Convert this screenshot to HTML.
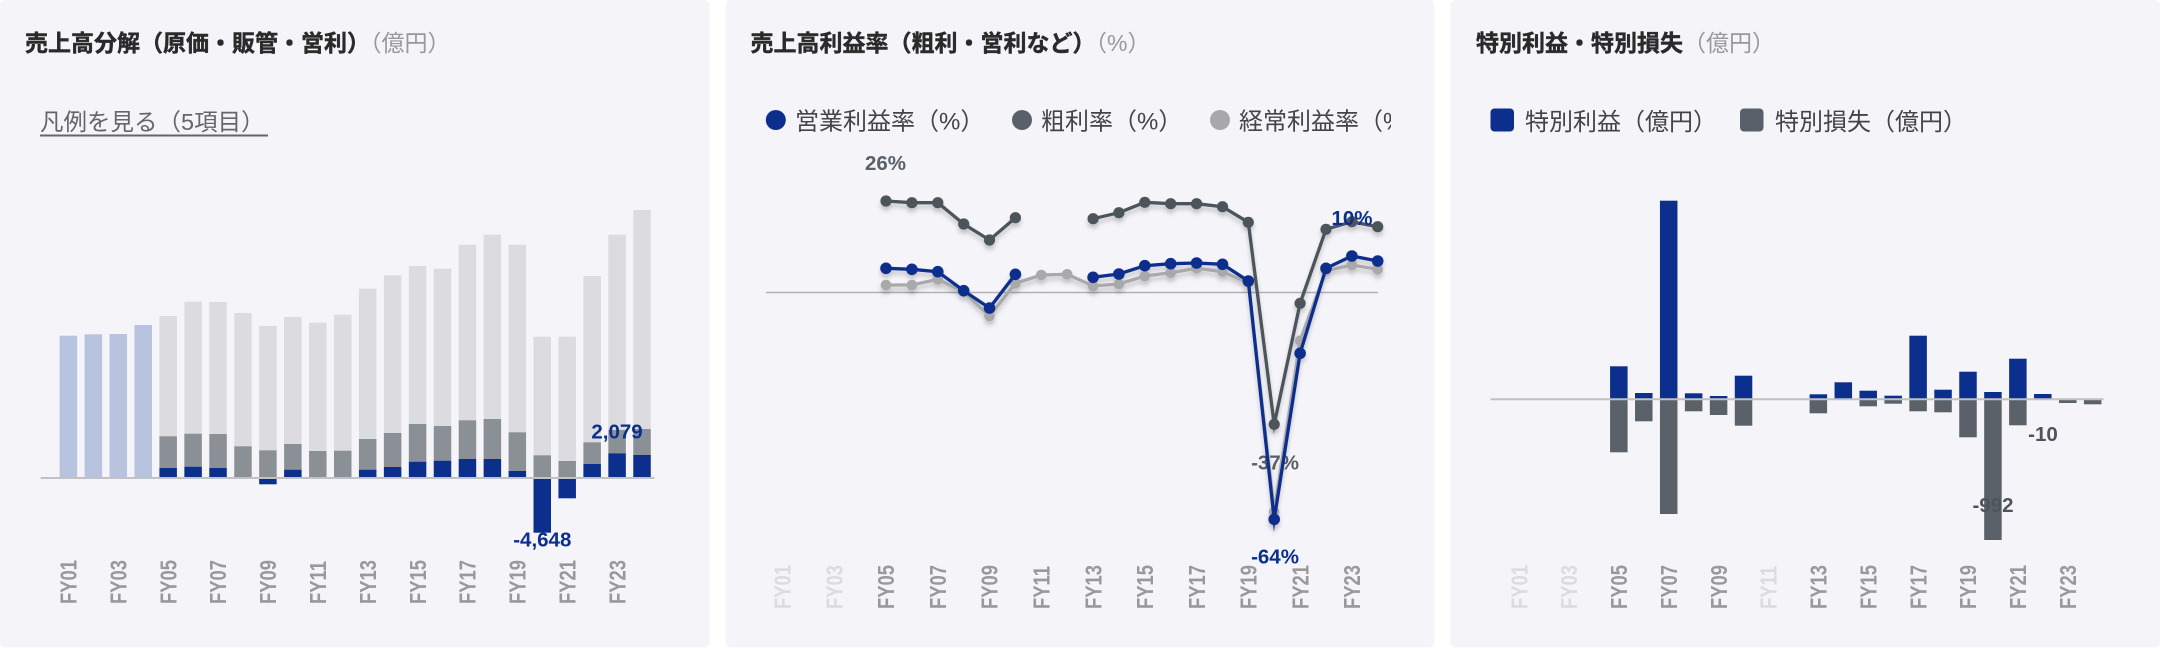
<!DOCTYPE html>
<html><head><meta charset="utf-8"><style>
html,body{margin:0;padding:0;background:#fff;}
svg{display:block;}
text{font-family:"Liberation Sans","Noto Sans CJK JP",sans-serif;}
.t{font-size:23px;font-weight:bold;fill:#2a2a2a;stroke:#2a2a2a;stroke-width:0.45px;}
.tg{font-weight:normal;fill:#999;stroke:none;}
.lg{font-size:24px;fill:#444;}
.xl{font-size:23px;font-weight:bold;fill:#999;}
.xll{font-size:23px;font-weight:bold;fill:#dcdce0;}
.vl{font-size:20.5px;font-weight:bold;text-anchor:middle;}
.lb{fill:#b8c3e0;} .lgy{fill:#dcdce0;} .dg{fill:#8b9096;} .nv{fill:#0c2f8d;} .ng{fill:#5b6169;}
</style></head><body>
<svg width="2160" height="648" viewBox="0 0 2160 648" xmlns="http://www.w3.org/2000/svg">
<defs>
<filter id="sh" x="-5%" y="-10%" width="110%" height="130%"><feDropShadow dx="0" dy="4" stdDeviation="2" flood-color="#000" flood-opacity="0.2"/></filter>
<clipPath id="lc"><rect x="725" y="90" width="666" height="60"/></clipPath>
</defs>
<rect x="0" y="0" width="2160" height="648" fill="#fff"/>
<rect x="0" y="0" width="709.5" height="647.5" rx="6" fill="#f4f4f9"/>
<rect x="725.5" y="0" width="709" height="647.5" rx="6" fill="#f4f4f9"/>
<rect x="1450.5" y="0" width="709.5" height="647.5" rx="6" fill="#f4f4f9"/>

<!-- Chart 1 -->
<text class="t" x="25" y="51">売上高分解（原価・販管・営利）<tspan class="tg">（億円）</tspan></text>
<text class="lg" x="40" y="130" style="fill:#666;font-size:23.5px">凡例を見る（5項目）</text>
<line x1="40" y1="135.5" x2="268" y2="135.5" stroke="#666" stroke-width="2"/>
<g>
<rect class="lb" x="59.65" y="335.7" width="17.5" height="142.3"/>
<rect class="lb" x="84.59" y="334.3" width="17.5" height="143.7"/>
<rect class="lb" x="109.53" y="334" width="17.5" height="144"/>
<rect class="lb" x="134.47" y="325" width="17.5" height="153"/>
<rect class="lgy" x="159.41" y="316" width="17.5" height="120.3"/><rect class="dg" x="159.41" y="436.3" width="17.5" height="31.7"/><rect class="nv" x="159.41" y="468" width="17.5" height="10"/>
<rect class="lgy" x="184.35" y="301.7" width="17.5" height="132"/><rect class="dg" x="184.35" y="433.7" width="17.5" height="33"/><rect class="nv" x="184.35" y="466.7" width="17.5" height="11.3"/>
<rect class="lgy" x="209.29" y="302" width="17.5" height="132"/><rect class="dg" x="209.29" y="434" width="17.5" height="34"/><rect class="nv" x="209.29" y="468" width="17.5" height="10"/>
<rect class="lgy" x="234.23" y="313" width="17.5" height="133.3"/><rect class="dg" x="234.23" y="446.3" width="17.5" height="31.7"/>
<rect class="lgy" x="259.17" y="326" width="17.5" height="124.3"/><rect class="dg" x="259.17" y="450.3" width="17.5" height="27.7"/><rect class="nv" x="259.17" y="478" width="17.5" height="6.3"/>
<rect class="lgy" x="284.11" y="317" width="17.5" height="127"/><rect class="dg" x="284.11" y="444" width="17.5" height="25.7"/><rect class="nv" x="284.11" y="469.7" width="17.5" height="8.3"/>
<rect class="lgy" x="309.05" y="322.7" width="17.5" height="128.3"/><rect class="dg" x="309.05" y="451" width="17.5" height="27"/>
<rect class="lgy" x="333.99" y="314.7" width="17.5" height="136"/><rect class="dg" x="333.99" y="450.7" width="17.5" height="27.3"/>
<rect class="lgy" x="358.93" y="288.7" width="17.5" height="150.3"/><rect class="dg" x="358.93" y="439" width="17.5" height="30.7"/><rect class="nv" x="358.93" y="469.7" width="17.5" height="8.3"/>
<rect class="lgy" x="383.87" y="275.3" width="17.5" height="157.7"/><rect class="dg" x="383.87" y="433" width="17.5" height="34"/><rect class="nv" x="383.87" y="467" width="17.5" height="11"/>
<rect class="lgy" x="408.81" y="266" width="17.5" height="158"/><rect class="dg" x="408.81" y="424" width="17.5" height="37.7"/><rect class="nv" x="408.81" y="461.7" width="17.5" height="16.3"/>
<rect class="lgy" x="433.75" y="268.7" width="17.5" height="157.3"/><rect class="dg" x="433.75" y="426" width="17.5" height="34.7"/><rect class="nv" x="433.75" y="460.7" width="17.5" height="17.3"/>
<rect class="lgy" x="458.69" y="244.7" width="17.5" height="175.6"/><rect class="dg" x="458.69" y="420.3" width="17.5" height="38.7"/><rect class="nv" x="458.69" y="459" width="17.5" height="19"/>
<rect class="lgy" x="483.63" y="234.7" width="17.5" height="184.3"/><rect class="dg" x="483.63" y="419" width="17.5" height="40"/><rect class="nv" x="483.63" y="459" width="17.5" height="19"/>
<rect class="lgy" x="508.57" y="244.7" width="17.5" height="187.6"/><rect class="dg" x="508.57" y="432.3" width="17.5" height="38.7"/><rect class="nv" x="508.57" y="471" width="17.5" height="7"/>
<rect class="lgy" x="533.51" y="336.7" width="17.5" height="118.6"/><rect class="dg" x="533.51" y="455.3" width="17.5" height="22.7"/><rect class="nv" x="533.51" y="478" width="17.5" height="54.7"/>
<rect class="lgy" x="558.45" y="336.7" width="17.5" height="124.3"/><rect class="dg" x="558.45" y="461" width="17.5" height="17"/><rect class="nv" x="558.45" y="478" width="17.5" height="20.3"/>
<rect class="lgy" x="583.39" y="276" width="17.5" height="166.3"/><rect class="dg" x="583.39" y="442.3" width="17.5" height="21.7"/><rect class="nv" x="583.39" y="464" width="17.5" height="14"/>
<rect class="lgy" x="608.33" y="234.7" width="17.5" height="195.3"/><rect class="dg" x="608.33" y="430" width="17.5" height="23.3"/><rect class="nv" x="608.33" y="453.3" width="17.5" height="24.7"/>
<rect class="lgy" x="633.27" y="210" width="17.5" height="219"/><rect class="dg" x="633.27" y="429" width="17.5" height="26"/><rect class="nv" x="633.27" y="455" width="17.5" height="23"/>
</g>
<line x1="40.5" y1="478" x2="654.5" y2="478" stroke="#c2c2c6" stroke-width="2"/>
<text class="vl" x="617" y="438.3" fill="#0c2f8d">2,079</text>
<text class="vl" x="542.3" y="546.7" fill="#0c2f8d">-4,648</text>
<g>
<text class="xl" transform="translate(76.6,604) rotate(-90) scale(0.8,1)">FY01</text>
<text class="xl" transform="translate(126.5,604) rotate(-90) scale(0.8,1)">FY03</text>
<text class="xl" transform="translate(176.4,604) rotate(-90) scale(0.8,1)">FY05</text>
<text class="xl" transform="translate(226.2,604) rotate(-90) scale(0.8,1)">FY07</text>
<text class="xl" transform="translate(276.1,604) rotate(-90) scale(0.8,1)">FY09</text>
<text class="xl" transform="translate(326,604) rotate(-90) scale(0.8,1)">FY11</text>
<text class="xl" transform="translate(375.9,604) rotate(-90) scale(0.8,1)">FY13</text>
<text class="xl" transform="translate(425.8,604) rotate(-90) scale(0.8,1)">FY15</text>
<text class="xl" transform="translate(475.6,604) rotate(-90) scale(0.8,1)">FY17</text>
<text class="xl" transform="translate(525.5,604) rotate(-90) scale(0.8,1)">FY19</text>
<text class="xl" transform="translate(575.4,604) rotate(-90) scale(0.8,1)">FY21</text>
<text class="xl" transform="translate(625.3,604) rotate(-90) scale(0.8,1)">FY23</text>
</g>

<!-- Chart 2 -->
<text class="t" x="750.5" y="51">売上高利益率（粗利・営利など）<tspan class="tg">（%）</tspan></text>
<g clip-path="url(#lc)">
<circle cx="775.8" cy="120" r="10" fill="#0c2f8d"/>
<text class="lg" x="795" y="129.5">営業利益率（%）</text>
<circle cx="1022" cy="120" r="10" fill="#5a6069"/>
<text class="lg" x="1041" y="129.5">粗利率（%）</text>
<circle cx="1220" cy="120" r="10" fill="#a8a8aa"/>
<text class="lg" x="1239" y="129.5">経常利益率（%）</text>
</g>
<line x1="766" y1="292.5" x2="1378" y2="292.5" stroke="#b2b2b6" stroke-width="1.6"/>
<text class="vl" x="885.5" y="170" fill="#5a6069">26%</text>
<text class="vl" x="1275" y="469.3" fill="#5a6069">-37%</text>
<text class="vl" x="1275" y="563.3" fill="#0c2f8d">-64%</text>
<g filter="url(#sh)" fill="none" stroke-width="3.3" stroke-linejoin="miter" stroke-miterlimit="10">
<polyline stroke="#a9a9ab" points="886,285 911.9,285 937.8,279.3 963.7,291.7 989.5,316 1015.4,283.3 1041.3,275 1067.2,274.3 1093.1,286 1118.9,284 1144.8,276 1170.7,272.7 1196.6,268.3 1222.5,271.7 1248.3,282.7 1274.2,511.7 1300.1,340.7 1326,270.7 1351.9,265 1377.7,269.3"/>
<g fill="#a9a9ab" stroke="none">
<circle cx="886" cy="285" r="5.3"/><circle cx="911.9" cy="285" r="5.3"/><circle cx="937.8" cy="279.3" r="5.3"/><circle cx="963.7" cy="291.7" r="5.3"/><circle cx="989.5" cy="316" r="5.3"/><circle cx="1015.4" cy="283.3" r="5.3"/><circle cx="1041.3" cy="275" r="5.3"/><circle cx="1067.2" cy="274.3" r="5.3"/><circle cx="1093.1" cy="286" r="5.3"/><circle cx="1118.9" cy="284" r="5.3"/><circle cx="1144.8" cy="276" r="5.3"/><circle cx="1170.7" cy="272.7" r="5.3"/><circle cx="1196.6" cy="268.3" r="5.3"/><circle cx="1222.5" cy="271.7" r="5.3"/><circle cx="1248.3" cy="282.7" r="5.3"/><circle cx="1274.2" cy="511.7" r="5.3"/><circle cx="1300.1" cy="340.7" r="5.3"/><circle cx="1326" cy="270.7" r="5.3"/><circle cx="1351.9" cy="265" r="5.3"/><circle cx="1377.7" cy="269.3" r="5.3"/>
</g>
<polyline stroke="#4d545c" points="886,201 911.9,202.7 937.8,202.7 963.7,224 989.5,240 1015.4,217.7"/>
<polyline stroke="#4d545c" points="1093.1,218.7 1118.9,212.7 1144.8,202.3 1170.7,203.7 1196.6,203.7 1222.5,206.7 1248.3,222.3 1274.2,424.3 1300.1,303.3 1326,229.3 1351.9,221.7 1377.7,226.7"/>
<g fill="#4d545c" stroke="none">
<circle cx="886" cy="201" r="5.6"/><circle cx="911.9" cy="202.7" r="5.6"/><circle cx="937.8" cy="202.7" r="5.6"/><circle cx="963.7" cy="224" r="5.6"/><circle cx="989.5" cy="240" r="5.6"/><circle cx="1015.4" cy="217.7" r="5.6"/><circle cx="1093.1" cy="218.7" r="5.6"/><circle cx="1118.9" cy="212.7" r="5.6"/><circle cx="1144.8" cy="202.3" r="5.6"/><circle cx="1170.7" cy="203.7" r="5.6"/><circle cx="1196.6" cy="203.7" r="5.6"/><circle cx="1222.5" cy="206.7" r="5.6"/><circle cx="1248.3" cy="222.3" r="5.6"/><circle cx="1274.2" cy="424.3" r="5.6"/><circle cx="1300.1" cy="303.3" r="5.6"/><circle cx="1326" cy="229.3" r="5.6"/><circle cx="1351.9" cy="221.7" r="5.6"/><circle cx="1377.7" cy="226.7" r="5.6"/>
</g>
<polyline stroke="#0c2f8d" points="886,268.3 911.9,269.3 937.8,271.7 963.7,290.7 989.5,308 1015.4,274.3"/>
<polyline stroke="#0c2f8d" points="1093.1,277.3 1118.9,274 1144.8,265.7 1170.7,263.7 1196.6,263 1222.5,264.3 1248.3,281 1274.2,519.3 1300.1,353.3 1326,268.3 1351.9,256 1377.7,261"/>
<g fill="#0c2f8d" stroke="none">
<circle cx="886" cy="268.3" r="5.8"/><circle cx="911.9" cy="269.3" r="5.8"/><circle cx="937.8" cy="271.7" r="5.8"/><circle cx="963.7" cy="290.7" r="5.8"/><circle cx="989.5" cy="308" r="5.8"/><circle cx="1015.4" cy="274.3" r="5.8"/><circle cx="1093.1" cy="277.3" r="5.8"/><circle cx="1118.9" cy="274" r="5.8"/><circle cx="1144.8" cy="265.7" r="5.8"/><circle cx="1170.7" cy="263.7" r="5.8"/><circle cx="1196.6" cy="263" r="5.8"/><circle cx="1222.5" cy="264.3" r="5.8"/><circle cx="1248.3" cy="281" r="5.8"/><circle cx="1274.2" cy="519.3" r="5.8"/><circle cx="1300.1" cy="353.3" r="5.8"/><circle cx="1326" cy="268.3" r="5.8"/><circle cx="1351.9" cy="256" r="5.8"/><circle cx="1377.7" cy="261" r="5.8"/>
</g>
</g>
<text class="vl" x="1352" y="225" fill="#0c2f8d">10%</text>
<g>
<text class="xll" transform="translate(790.7,609) rotate(-90) scale(0.8,1)">FY01</text>
<text class="xll" transform="translate(842.5,609) rotate(-90) scale(0.8,1)">FY03</text>
<text class="xl" transform="translate(894.2,609) rotate(-90) scale(0.8,1)">FY05</text>
<text class="xl" transform="translate(946,609) rotate(-90) scale(0.8,1)">FY07</text>
<text class="xl" transform="translate(997.7,609) rotate(-90) scale(0.8,1)">FY09</text>
<text class="xl" transform="translate(1049.5,609) rotate(-90) scale(0.8,1)">FY11</text>
<text class="xl" transform="translate(1101.3,609) rotate(-90) scale(0.8,1)">FY13</text>
<text class="xl" transform="translate(1153,609) rotate(-90) scale(0.8,1)">FY15</text>
<text class="xl" transform="translate(1204.8,609) rotate(-90) scale(0.8,1)">FY17</text>
<text class="xl" transform="translate(1256.5,609) rotate(-90) scale(0.8,1)">FY19</text>
<text class="xl" transform="translate(1308.3,609) rotate(-90) scale(0.8,1)">FY21</text>
<text class="xl" transform="translate(1360.1,609) rotate(-90) scale(0.8,1)">FY23</text>
</g>

<!-- Chart 3 -->
<text class="t" x="1476" y="51">特別利益・特別損失<tspan class="tg">（億円）</tspan></text>
<rect x="1490.5" y="108.5" width="23.5" height="23" rx="4" fill="#0c2f8d"/>
<text class="lg" x="1525" y="130">特別利益（億円）</text>
<rect x="1740" y="108.5" width="23.5" height="23" rx="4" fill="#5a6069"/>
<text class="lg" x="1775" y="130">特別損失（億円）</text>
<g>
<rect class="nv" x="1610.08" y="366.3" width="17.5" height="33"/><rect class="ng" x="1610.08" y="399.3" width="17.5" height="53"/>
<rect class="nv" x="1635.02" y="393" width="17.5" height="6.3"/><rect class="ng" x="1635.02" y="399.3" width="17.5" height="22"/>
<rect class="nv" x="1659.96" y="200.7" width="17.5" height="198.6"/><rect class="ng" x="1659.96" y="399.3" width="17.5" height="114.7"/>
<rect class="nv" x="1684.9" y="393.3" width="17.5" height="6"/><rect class="ng" x="1684.9" y="399.3" width="17.5" height="12"/>
<rect class="nv" x="1709.84" y="396" width="17.5" height="3.3"/><rect class="ng" x="1709.84" y="399.3" width="17.5" height="15.7"/>
<rect class="nv" x="1734.78" y="375.7" width="17.5" height="23.6"/><rect class="ng" x="1734.78" y="399.3" width="17.5" height="26.4"/>
<rect class="nv" x="1809.6" y="394.3" width="17.5" height="5"/><rect class="ng" x="1809.6" y="399.3" width="17.5" height="14"/>
<rect class="nv" x="1834.54" y="382.3" width="17.5" height="17"/>
<rect class="nv" x="1859.48" y="390.7" width="17.5" height="8.6"/><rect class="ng" x="1859.48" y="399.3" width="17.5" height="7"/>
<rect class="nv" x="1884.42" y="395.7" width="17.5" height="3.6"/><rect class="ng" x="1884.42" y="399.3" width="17.5" height="4.4"/>
<rect class="nv" x="1909.36" y="335.7" width="17.5" height="63.6"/><rect class="ng" x="1909.36" y="399.3" width="17.5" height="12"/>
<rect class="nv" x="1934.3" y="389.7" width="17.5" height="9.6"/><rect class="ng" x="1934.3" y="399.3" width="17.5" height="13"/>
<rect class="nv" x="1959.24" y="371.7" width="17.5" height="27.6"/><rect class="ng" x="1959.24" y="399.3" width="17.5" height="38"/>
<rect class="nv" x="1984.18" y="392" width="17.5" height="7.3"/><rect class="ng" x="1984.18" y="399.3" width="17.5" height="140.7"/>
<rect class="nv" x="2009.12" y="358.7" width="17.5" height="40.6"/><rect class="ng" x="2009.12" y="399.3" width="17.5" height="26"/>
<rect class="nv" x="2034.06" y="394" width="17.5" height="5.3"/>
<rect class="ng" x="2059" y="399.3" width="17.5" height="3.7"/>
<rect class="ng" x="2083.94" y="399.3" width="17.5" height="5"/>
</g>
<line x1="1490.5" y1="399.3" x2="2103.5" y2="399.3" stroke="#c2c2c6" stroke-width="2"/>
<text class="vl" x="1993" y="512" fill="#4d545c">-992</text>
<text class="vl" x="2043" y="441" fill="#4d545c">-10</text>
<g>
<text class="xll" transform="translate(1527.3,609) rotate(-90) scale(0.8,1)">FY01</text>
<text class="xll" transform="translate(1577.2,609) rotate(-90) scale(0.8,1)">FY03</text>
<text class="xl" transform="translate(1627,609) rotate(-90) scale(0.8,1)">FY05</text>
<text class="xl" transform="translate(1676.9,609) rotate(-90) scale(0.8,1)">FY07</text>
<text class="xl" transform="translate(1726.8,609) rotate(-90) scale(0.8,1)">FY09</text>
<text class="xll" transform="translate(1776.7,609) rotate(-90) scale(0.8,1)">FY11</text>
<text class="xl" transform="translate(1826.6,609) rotate(-90) scale(0.8,1)">FY13</text>
<text class="xl" transform="translate(1876.4,609) rotate(-90) scale(0.8,1)">FY15</text>
<text class="xl" transform="translate(1926.3,609) rotate(-90) scale(0.8,1)">FY17</text>
<text class="xl" transform="translate(1976.2,609) rotate(-90) scale(0.8,1)">FY19</text>
<text class="xl" transform="translate(2026.1,609) rotate(-90) scale(0.8,1)">FY21</text>
<text class="xl" transform="translate(2076,609) rotate(-90) scale(0.8,1)">FY23</text>
</g>
</svg>
</body></html>
